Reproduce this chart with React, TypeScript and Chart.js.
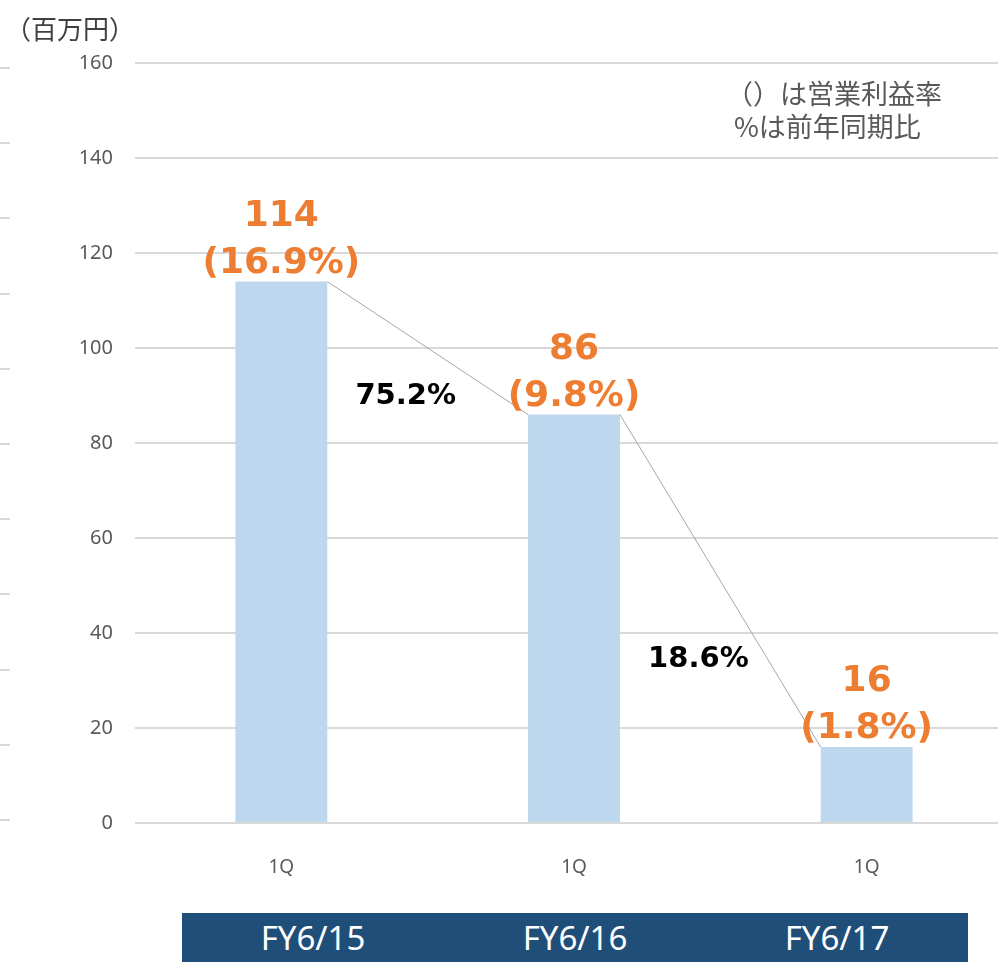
import React, { useEffect, useRef } from "react";
import { Chart, registerables } from "chart.js";

Chart.register(...registerables);

const categories = ["1Q", "1Q", "1Q"];
const profit = [114, 86, 16];
const marginLabels = ["(16.9%)", "(9.8%)", "(1.8%)"];
const growthLabels = ["75.2%", "18.6%"];
const fiscalYears = ["FY6/15", "FY6/16", "FY6/17"];
const yTicks = { min: 0, max: 160, step: 20 };
const unitLabel = "（百万円）";
const noteLines = ["（）は営業利益率", "%は前年同期比"];

const labelPlugin = {
  id: "labelPlugin",
  beforeDraw(chart: any) {
    const { ctx, chartArea } = chart;
    ctx.save();
    ctx.strokeStyle = "#D9D9D9";
    ctx.lineWidth = 2;
    const t = chartArea.top + 5;
    const b = chartArea.bottom - 3;
    for (let i = 0; i <= 10; i++) {
      const y = Math.round(t + (i * (b - t)) / 10);
      ctx.beginPath();
      ctx.moveTo(0, y);
      ctx.lineTo(10, y);
      ctx.stroke();
    }
    ctx.restore();
  },
  afterDatasetsDraw(chart: any) {
    const { ctx } = chart;
    const meta = chart.getDatasetMeta(0);
    const yScale = chart.scales.y;
    const bars = meta.data;
    ctx.save();
    // connectors
    ctx.strokeStyle = "#A6A6A6";
    ctx.lineWidth = 1;
    for (let i = 0; i < bars.length - 1; i++) {
      const a = bars[i];
      const c = bars[i + 1];
      ctx.beginPath();
      ctx.moveTo(a.x + a.width / 2, a.y);
      ctx.lineTo(c.x - c.width / 2, c.y);
      ctx.stroke();
    }
    // value labels
    ctx.fillStyle = "#ED7D31";
    ctx.font = "bold 36px 'DejaVu Sans'";
    ctx.textAlign = "center";
    ctx.textBaseline = "alphabetic";
    bars.forEach((bar: any, i: number) => {
      ctx.fillText(String(profit[i]), bar.x, bar.y - 56);
      ctx.fillText(marginLabels[i], bar.x, bar.y - 9);
    });
    // growth labels
    ctx.fillStyle = "#000000";
    ctx.font = "bold 29px 'DejaVu Sans'";
    ctx.textBaseline = "middle";
    for (let i = 0; i < growthLabels.length; i++) {
      const a = bars[i];
      const c = bars[i + 1];
      const x = a.x + 0.425 * (c.x - a.x);
      const mid = (profit[i] + profit[i + 1]) / 2;
      const drop = profit[i] - profit[i + 1];
      const y = yScale.getPixelForValue(mid - 6 - 0.15 * drop);
      ctx.fillText(growthLabels[i], x, y);
    }
    ctx.restore();
  },
};

export default function App() {
  const ref = useRef<HTMLCanvasElement | null>(null);
  useEffect(() => {
    if (!ref.current) return;
    const chart = new Chart(ref.current, {
      type: "bar",
      data: {
        labels: categories,
        datasets: [
          {
            data: profit,
            backgroundColor: "#BDD7EE",
            barPercentage: 0.314,
            categoryPercentage: 1,
          },
        ],
      },
      options: {
        animation: false,
        responsive: false,
        layout: { padding: { top: 63, right: 0, left: 0, bottom: 0 } },
        plugins: { legend: { display: false }, tooltip: { enabled: false } },
        scales: {
          x: {
            grid: { display: false },
            border: { display: false },
            ticks: {
              color: "#595959",
              font: { size: 19, family: "'Noto Sans'" },
              padding: 25,
            },
            afterFit: (s: any) => {
              s.height = 139;
            },
          },
          y: {
            min: yTicks.min,
            max: yTicks.max,
            ticks: {
              stepSize: yTicks.step,
              color: "#595959",
              font: { size: 20, family: "'Noto Sans'" },
              padding: 22,
            },
            grid: { color: "#D9D9D9", lineWidth: 2, drawTicks: false },
            border: { display: false },
            afterFit: (s: any) => {
              s.width = 135;
            },
          },
        },
      },
      plugins: [labelPlugin],
    });
    return () => chart.destroy();
  }, []);

  return (
    <div
      style={{
        position: "fixed",
        left: 0,
        top: 0,
        width: 998,
        height: 962,
        overflow: "hidden",
        background: "#fff",
      }}
    >
      <canvas
        ref={ref}
        width={1013}
        height={962}
        style={{ position: "absolute", left: 0, top: 0, width: 1013, height: 962 }}
      />
      <div
        style={{
          position: "absolute",
          left: 5,
          top: 11,
          fontFamily: "'Noto Sans CJK JP'",
          fontSize: 26,
          lineHeight: "34px",
          color: "#404040",
          whiteSpace: "nowrap",
        }}
      >
        {unitLabel}
      </div>
      <div
        style={{
          position: "absolute",
          left: 726,
          top: 76,
          fontFamily: "'Noto Sans CJK JP'",
          fontSize: 27,
          lineHeight: "33px",
          color: "#595959",
          whiteSpace: "nowrap",
        }}
      >
        {noteLines.map((l, i) => (
          <div key={i} style={{ paddingLeft: i === 1 ? 8 : 0 }}>
            {l}
          </div>
        ))}
      </div>
      <div
        style={{
          position: "absolute",
          left: 182,
          top: 913,
          width: 786,
          height: 49,
          background: "#1F4E79",
          display: "flex",
        }}
      >
        {fiscalYears.map((fy) => (
          <div
            key={fy}
            style={{
              flex: 1,
              color: "#fff",
              fontFamily: "'Noto Sans'",
              fontSize: 33,
              display: "flex",
              alignItems: "center",
              justifyContent: "center",
              lineHeight: "49px",
            }}
          >
            {fy}
          </div>
        ))}
      </div>
    </div>
  );
}
